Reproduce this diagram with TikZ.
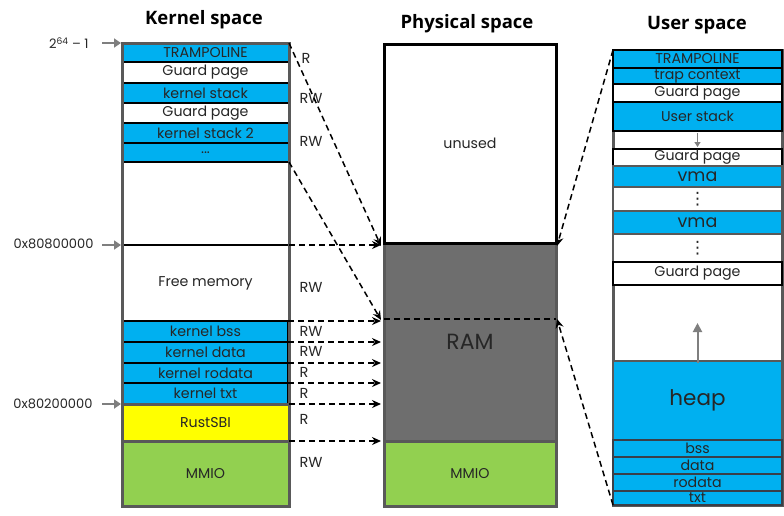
\documentclass[tikz,border=0pt]{standalone}
\usepackage{fontspec}
\setmainfont{Poppins}
\newfontfamily\titlefont{Open Sans}
\newfontfamily\symfont{DejaVu Sans}
\usetikzlibrary{arrows.meta,calc}
\definecolor{kblue}{HTML}{00B0F0}
\definecolor{kyellow}{HTML}{FFFF00}
\definecolor{kgreen}{HTML}{92D050}
\definecolor{ramgray}{HTML}{6E6E6E}
\definecolor{framegray}{HTML}{595959}
\definecolor{arrgray}{HTML}{7F7F7F}
\definecolor{darkedge}{HTML}{3A3F48}
\newcommand\rowbox[7]{%
  \pgfmathsetmacro\rw{#5-#3}\pgfmathsetmacro\rh{#6-#4}%
  \node[rowbase,#2,minimum width=\rw pt,minimum height=\rh pt] (#1) at (#3,#4) {#7};}
\tikzset{
  rowbase/.style={anchor=north west,inner sep=0pt,outer sep=0pt,font=\fontsize{14.2}{14}\selectfont,text=black!85},
  blackblue/.style={fill=kblue,draw=black,line width=2.5pt},
  blackwhite/.style={fill=white,draw=black,line width=2.5pt},
  graywhite/.style={fill=white,draw=framegray,line width=2.5pt},
  grayblue/.style={fill=kblue,draw=framegray,line width=2.5pt},
  darkblue/.style={fill=kblue,draw=darkedge,line width=2.5pt},
  frame/.style={draw=framegray,line width=3pt,outer sep=0pt,inner sep=0pt,anchor=north west},
  darr/.style={dashed,dash pattern=on 6pt off 4pt,line width=1.5pt,-{Stealth[length=9pt,width=8pt]}},
  garr/.style={draw=arrgray,line width=2.2pt,-{Triangle[length=7pt,width=9pt]}},
  title/.style={font=\titlefont\bfseries\fontsize{18.5}{20}\selectfont},
  perm/.style={font=\fontsize{14.5}{14}\selectfont,anchor=west,text=black!85},
  addr/.style={font=\fontsize{13}{13}\selectfont,anchor=east,text=black!85},
  vdotsrow/.style={graywhite,font=\symfont\fontsize{17}{17}\selectfont},
}
\begin{document}
\begin{tikzpicture}[x=1pt,y=-1pt]
\useasboundingbox (0,0) rectangle (784,515);
% titles
\node[title] (tk) at (204,20) {Kernel space};
\node[title] (tp) at (467,24) {Physical space};
\node[title] (tu) at (697,25) {User space};
% ---------------- kernel space
\node[frame,fill=white,minimum width=167pt,minimum height=463pt] (kframe) at (122,43) {};
\rowbox{kfree}{graywhite}{122}{245}{289}{321}{Free memory}
\draw[black,line width=2.5pt] (kfree.north west) -- (kfree.north east);
\rowbox{ktramp}{blackblue}{122}{43}{289}{62}{TRAMPOLINE}
\rowbox{kguard1}{blackwhite}{122}{62}{289}{83}{Guard page}
\rowbox{kstack}{blackblue}{122}{83}{289}{103}{kernel stack}
\rowbox{kguard2}{blackwhite}{122}{103}{289}{123}{Guard page}
\rowbox{kstack2}{blackblue}{122}{123}{289}{143}{kernel stack 2}
\rowbox{kdots}{blackblue}{122}{143}{289}{162}{\raisebox{-3pt}{...}}
\rowbox{kbss}{blackblue}{123}{321}{288}{342}{kernel bss}
\rowbox{kdata}{blackblue}{123}{342}{288}{363}{kernel data}
\rowbox{krodata}{blackblue}{123}{363}{288}{383}{kernel rodata}
\rowbox{ktxt}{blackblue}{123}{383}{288}{404}{kernel txt}
\rowbox{ksbi}{fill=kyellow,draw=framegray,line width=3pt}{122}{404}{289}{441}{RustSBI}
\rowbox{kmmio}{fill=kgreen,draw=framegray,line width=3pt}{122}{441}{289}{506}{MMIO}
\draw[framegray,line width=3pt] (kframe.north west) rectangle (kframe.south east);
% addresses
\node[addr] (a64) at (92,43) {2\textsuperscript{64} – 1};
\node[addr] (a808) at (97,244) {0x80800000};
\node[addr] (a802) at (96,404) {0x80200000};
\draw[garr] ([xshift=10pt]a64.east) -- ([xshift=-1pt]ktramp.north west);
\draw[garr] ([xshift=5pt]a808.east |- kfree.north west) -- ([xshift=-1pt]kfree.north west);
\draw[garr] ([xshift=6pt]a802.east |- ktxt.south west) -- ([xshift=-2pt]ktxt.south west);
% permissions
\node[perm] (p1) at (298,58) {R};
\node[perm] (p2) at (296,98) {RW};
\node[perm] (p3) at (296,141) {RW};
\node[perm] (p4) at (296,287) {RW};
\node[perm] (p5) at (296,331) {RW};
\node[perm] (p6) at (296,351) {RW};
\node[perm] (p7) at (296,372) {R};
\node[perm] (p8) at (296,393) {R};
\node[perm] (p9) at (296,419) {R};
\node[perm] (p10) at (296,462) {RW};
% ---------------- physical space
\rowbox{pram}{fill=ramgray,draw=framegray,line width=3pt,font=\fontsize{22}{22}\selectfont,text=black!85}{384}{243}{556}{441}{RAM}
\rowbox{pmmio}{fill=kgreen,draw=framegray,line width=3pt}{384}{441}{556}{506}{MMIO}
\rowbox{punused}{fill=white,draw=black,line width=3pt}{384}{44}{556}{243}{unused}
\coordinate (rl) at (384,319);
\coordinate (rr) at (556,319);
\draw[dashed,dash pattern=on 6pt off 4pt,line width=1.5pt] (rl) -- (rr);
% ---------------- user space
\node[frame,fill=white,minimum width=169pt,minimum height=455pt] (uframe) at (613,50) {};
\rowbox{utramp}{blackblue}{613}{50}{782}{68}{TRAMPOLINE}
\rowbox{utrap}{blackblue}{613}{68}{782}{84}{trap context}
\rowbox{uguard1}{blackwhite}{613}{84}{782}{102}{Guard page}
\rowbox{ustack}{blackblue}{613}{102}{782}{131}{User stack}
\rowbox{uguard2}{blackwhite}{613}{149}{782}{166}{Guard page}
\rowbox{uvma1}{grayblue,font=\fontsize{17.5}{17}\selectfont}{613}{166}{782}{187}{vma}
\rowbox{udots1}{vdotsrow}{613}{187}{782}{211}{⋮}
\rowbox{uvma2}{grayblue,font=\fontsize{17.5}{17}\selectfont}{613}{211}{782}{234}{vma}
\rowbox{udots2}{vdotsrow}{613}{234}{782}{262}{⋮}
\rowbox{uguard3}{blackwhite}{613}{262}{782}{285}{Guard page}
\rowbox{uheap}{grayblue,font=\fontsize{21.5}{21}\selectfont}{613}{361}{782}{440}{heap}
\rowbox{ubss}{darkblue}{613}{440}{782}{457}{bss}
\rowbox{udata}{darkblue}{613}{457}{782}{474}{data}
\rowbox{urodata}{darkblue}{613}{474}{782}{491}{rodata}
\rowbox{utxt}{darkblue}{613}{491}{782}{505}{txt}
\draw[arrgray,line width=1.5pt,-{Triangle[length=5pt,width=6pt]}] ([yshift=-2pt]ustack.south) -- ([yshift=2pt]uguard2.north);
\draw[arrgray,line width=2pt,-{Triangle[length=9pt,width=9pt]}] ([yshift=-2pt]uheap.north) -- ([yshift=38pt]uheap.north);
% ---------------- mappings
\draw[darr] (ktramp.north east) -- ([xshift=-3pt,yshift=-3pt]pram.north west);
\draw[darr] (kdots.south east) -- ([xshift=-3pt,yshift=-1pt]rl);
\draw[darr] (kfree.north east) -- ([xshift=-3pt]kfree.north east -| pram.west);
\draw[darr] (kbss.north east) -- ([xshift=-3pt]kbss.north east -| pram.west);
\draw[darr] (kdata.north east) -- ([xshift=-3pt]kdata.north east -| pram.west);
\draw[darr] (krodata.north east) -- ([xshift=-3pt]krodata.north east -| pram.west);
\draw[darr] (ktxt.north east) -- ([xshift=-3pt]ktxt.north east -| pram.west);
\draw[darr] (ksbi.north east) -- ([xshift=-3pt]ksbi.north east -| pram.west);
\draw[darr] (ksbi.south east) -- ([xshift=-3pt]ksbi.south east -| pram.west);
\draw[darr] (utramp.north west) -- ([xshift=1pt,yshift=-3pt]pram.north east);
\draw[darr] (utxt.south west) -- ([xshift=1pt]rr);
\end{tikzpicture}
\end{document}
